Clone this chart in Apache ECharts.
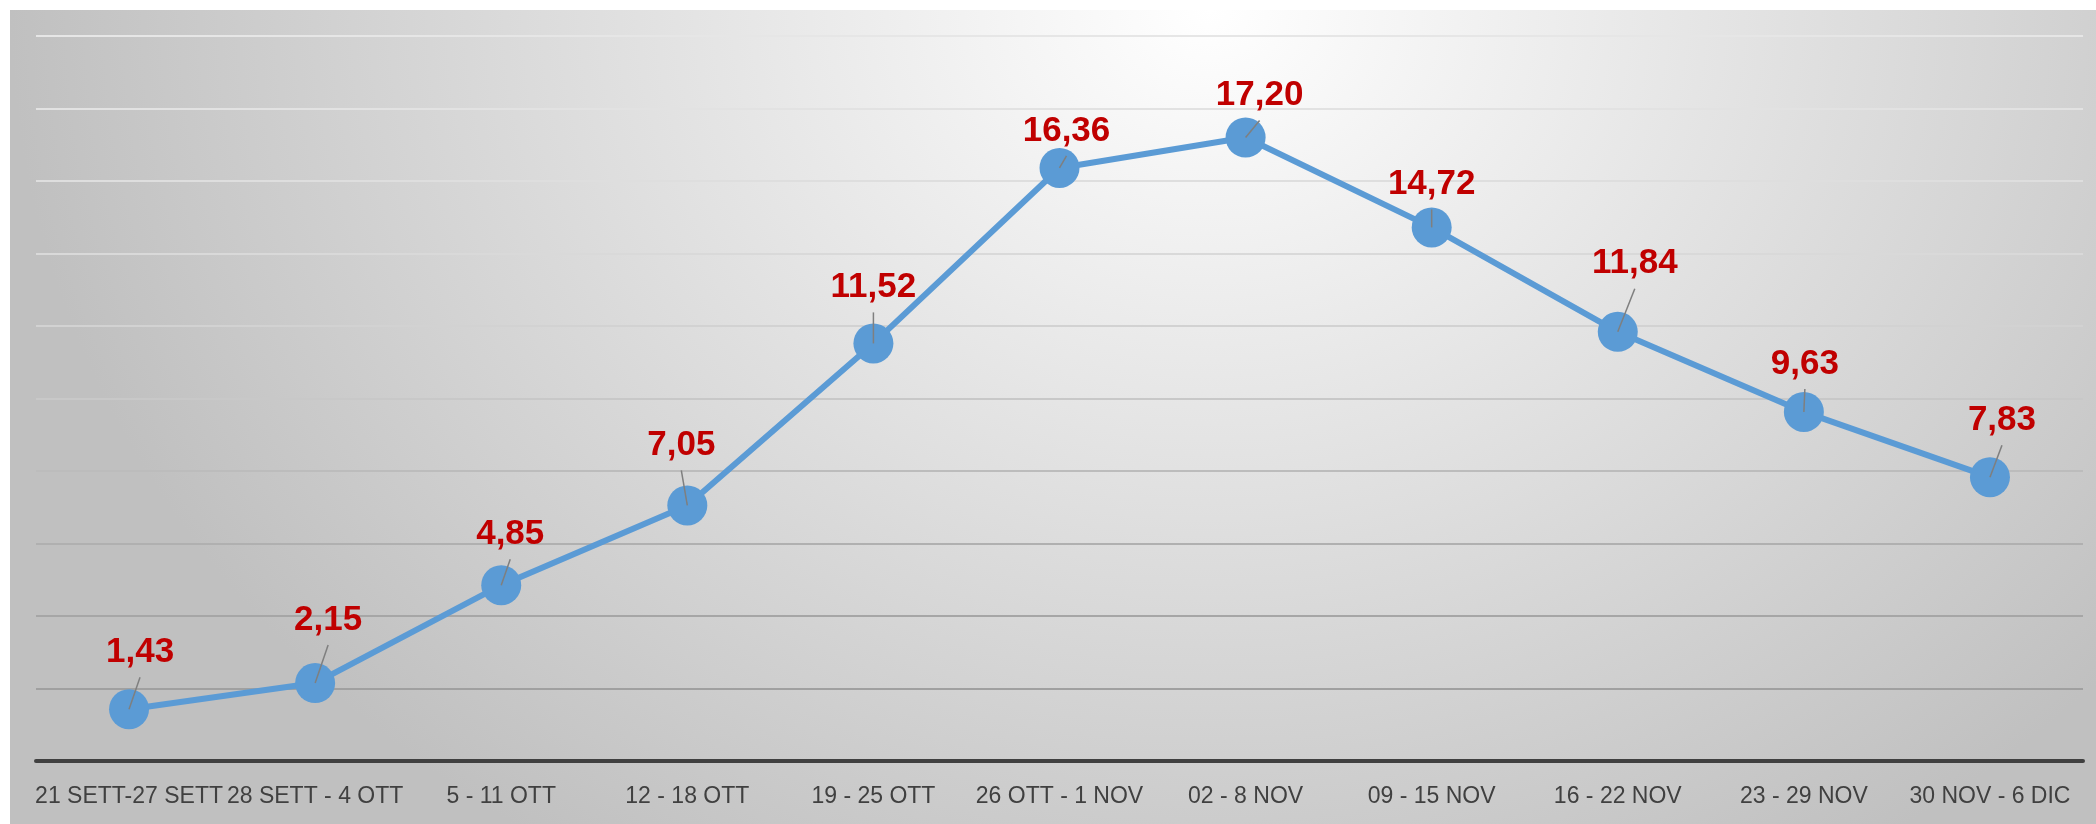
<!DOCTYPE html>
<html lang="it">
  <head>
    <meta charset="utf-8">
    <script src="https://cdn.jsdelivr.net/npm/echarts@6/dist/echarts.min.js"></script>
    <style>
      body { margin: 0; background: #ffffff; }
      #sfondo {
        position: absolute; left: 10px; top: 10px; width: 2086px; height: 814px;
        background: radial-gradient(ellipse 1200px 1000px at 1200px 0px, #ffffff 0%, #c0c0c0 100%);
      }
      #grafico { position: absolute; left: 0; top: 0; width: 2096px; height: 824px; }
    </style>
  </head>
  <body>
    <div id="sfondo"></div>
    <div id="grafico"></div>
    <script>
      // Settimane (asse x)
      const settimane = ['21 SETT-27 SETT', '28 SETT - 4 OTT', '5 - 11 OTT', '12 - 18 OTT', '19 - 25 OTT',
        '26 OTT - 1 NOV', '02 - 8 NOV', '09 - 15 NOV', '16 - 22 NOV', '23 - 29 NOV', '30 NOV - 6 DIC'];

      // Valori settimanali
      const valori = [1.43, 2.15, 4.85, 7.05, 11.52, 16.36, 17.20, 14.72, 11.84, 9.63, 7.83];

      // Scala asse y
      const yMin = 0;
      const yMax = 20;
      const yPasso = 2;

      // spostamento delle etichette rispetto al punto (solo stile)
      const spostamenti = [[11, -57], [13, -63], [9, -51], [-6, -60], [0, -56], [7, -37],
        [14, -42], [0, -43], [17, -68], [1, -48], [12, -57]];

      // colori griglia dal basso verso l'alto
      const coloriGriglia = ['#9a9a9a', '#a0a0a0', '#a6a6a6', '#b0b0b0', '#bcbcbc', '#c8c8c8',
        '#d2d2d2', '#d9d9d9', '#dedede', '#e2e2e2', '#e6e6e6'];

      const fmt = v => v.toFixed(2).replace('.', ',');

      var myChart = echarts.init(document.getElementById('grafico'));

      var option = {
        backgroundColor: 'transparent',
        animation: false,
        grid: { left: 36, right: 13, top: 36, bottom: 63 },
        xAxis: {
          type: 'category',
          data: settimane,
          boundaryGap: true,
          axisLine: { show: true, lineStyle: { color: '#404040', width: 4 } },
          axisTick: { show: false },
          axisLabel: {
            interval: 0,
            margin: 24,
            color: '#404040',
            fontSize: 23,
            fontFamily: "'Liberation Sans', sans-serif"
          }
        },
        yAxis: {
          type: 'value',
          min: yMin,
          max: yMax,
          interval: yPasso,
          axisLine: { show: false },
          axisTick: { show: false },
          axisLabel: { show: false },
          splitLine: { show: true, lineStyle: { color: coloriGriglia, width: 2 } }
        },
        series: [
          {
            type: 'line',
            data: valori.map((v, i) => ({ value: v, label: { offset: spostamenti[i] } })),
            symbol: 'circle',
            symbolSize: 40,
            lineStyle: { color: '#5b9bd5', width: 6 },
            itemStyle: { color: '#5b9bd5' },
            label: {
              show: true,
              position: 'inside',
              formatter: p => fmt(p.value),
              color: '#c00000',
              fontSize: 35,
              fontWeight: 'bold',
              fontFamily: "'Liberation Sans', sans-serif"
            },
            z: 2
          },
          {
            // linee guida dalle etichette ai punti
            type: 'custom',
            data: valori.map((v, i) => [i, v]),
            renderItem: function (params, api) {
              const p = api.coord([api.value(0), api.value(1)]);
              const o = spostamenti[params.dataIndex];
              return {
                type: 'line',
                shape: { x1: p[0], y1: p[1], x2: p[0] + o[0], y2: p[1] + o[1] + 25 },
                style: { stroke: '#7f7f7f', lineWidth: 1.5 }
              };
            },
            silent: true,
            z: 3
          }
        ]
      };
      myChart.setOption(option);
    </script>
  </body>
</html>
